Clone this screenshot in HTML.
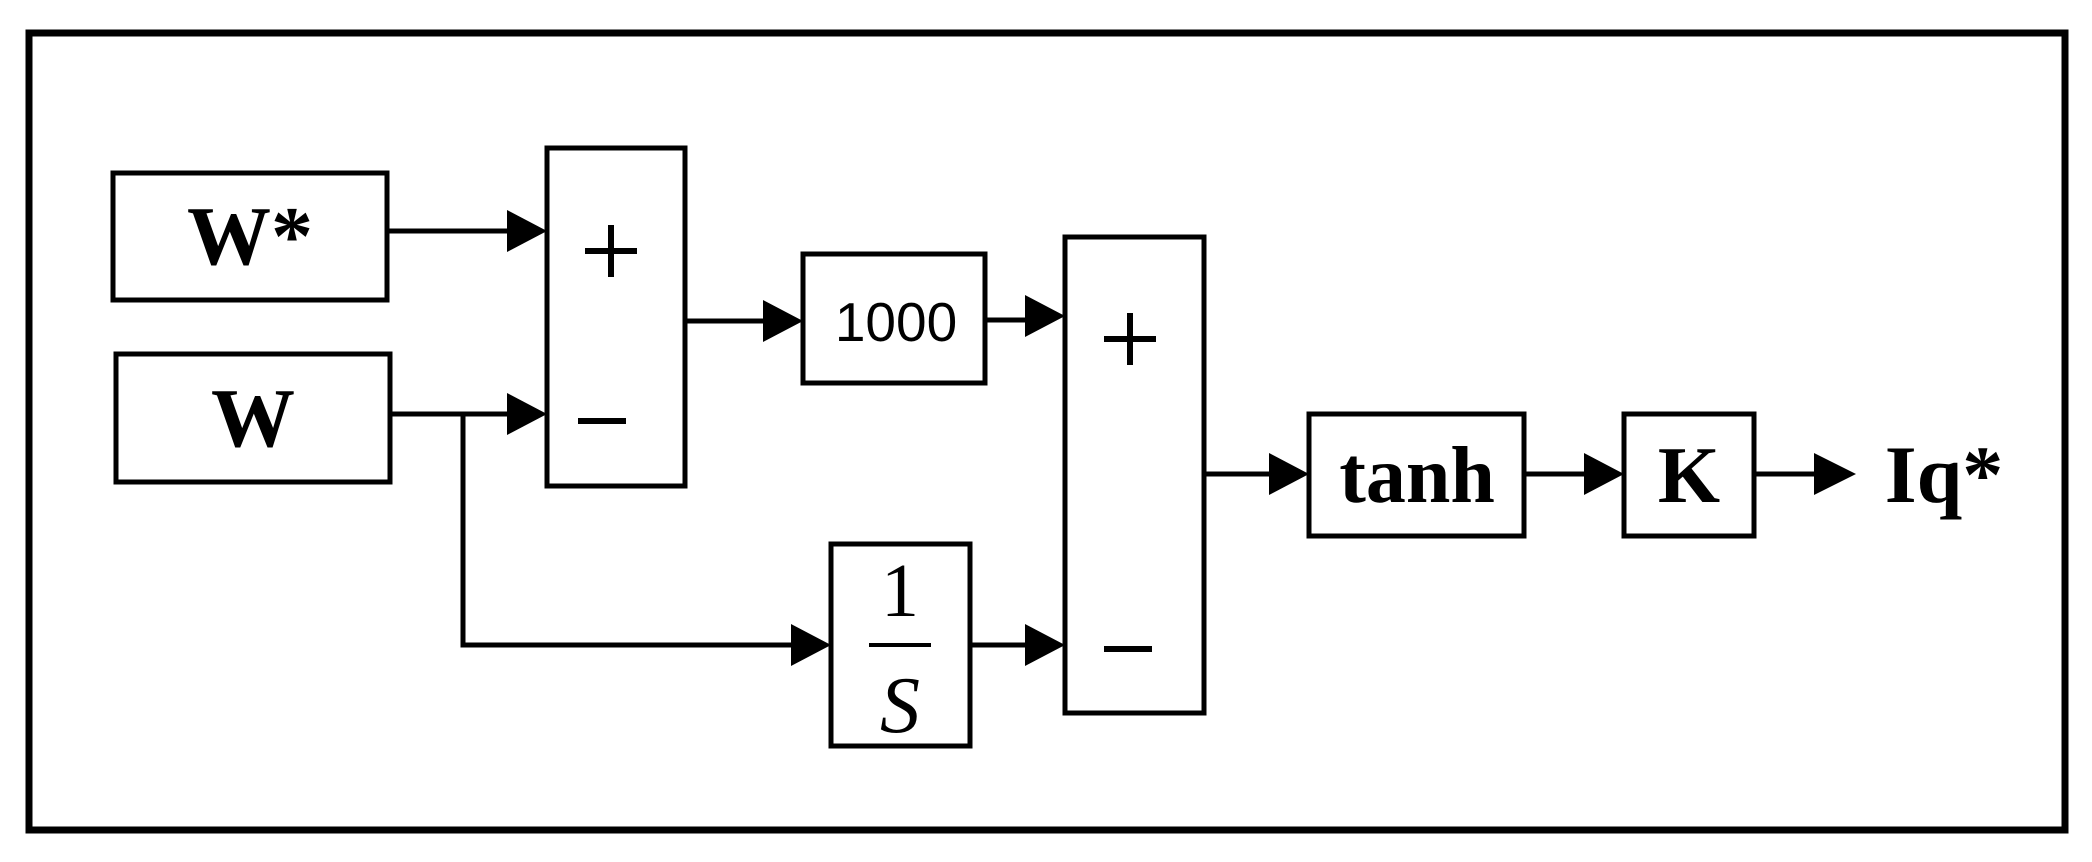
<!DOCTYPE html>
<html><head><style>html,body{margin:0;padding:0;background:#fff}</style></head><body>
<svg width="2092" height="857" viewBox="0 0 2092 857" xmlns="http://www.w3.org/2000/svg">
<rect width="2092" height="857" fill="#fff"/>
<rect x="29" y="33" width="2036" height="797" fill="none" stroke="#000" stroke-width="7"/>
<g fill="none" stroke="#000" stroke-width="5">
<rect x="113" y="173" width="274" height="127"/>
<rect x="116" y="354" width="274" height="128"/>
<rect x="547" y="148" width="138" height="338"/>
<rect x="803" y="254" width="182" height="129"/>
<rect x="831" y="544" width="139" height="202"/>
<rect x="1065" y="237" width="139" height="476"/>
<rect x="1309" y="414" width="215" height="122"/>
<rect x="1624" y="414" width="130" height="122"/>
<path d="M387 231H510M390 414H510M463 414V645H795M685 321H765M985 320H1030M970 645H1030M1204 474H1270M1524 474H1585M1754 474H1815"/>
</g>
<g fill="#000">
<path d="M547 231l-40-21v42z"/>
<path d="M547 414l-40-21v42z"/>
<path d="M803 321l-40-21v42z"/>
<path d="M1065 316l-40-21v42z"/>
<path d="M831 645l-40-21v42z"/>
<path d="M1065 645l-40-21v42z"/>
<path d="M1309 474l-40-21v42z"/>
<path d="M1624 474l-40-21v42z"/>
<path d="M1856 474l-42-21v42z"/>
</g>
<g stroke="#000" stroke-width="6">
<path d="M585 251h52M611 225v52"/>
<path d="M578 421h48"/>
<path d="M1104 339h52M1130 313v52"/>
<path d="M1104 649h48"/>
<path d="M869 645h62" stroke-width="4"/>
</g>
<g font-family="'Liberation Serif',serif" font-weight="bold" fill="#000" text-anchor="middle">
<text x="250" y="264" font-size="84">W*</text>
<text x="253" y="446" font-size="84">W</text>
<text x="1417" y="502" font-size="80">tanh</text>
<text x="1689" y="502" font-size="80">K</text>
<text x="1944" y="502" font-size="82">Iq*</text>
</g>
<text x="896" y="341" font-family="'Liberation Sans',sans-serif" font-size="55" text-anchor="middle" fill="#000">1000</text>
<text x="900" y="616" font-family="'Liberation Serif',serif" font-size="76" text-anchor="middle" fill="#000">1</text>
<text x="900" y="732" font-family="'Liberation Serif',serif" font-style="italic" font-size="80" text-anchor="middle" fill="#000">S</text>
</svg>
</body></html>
